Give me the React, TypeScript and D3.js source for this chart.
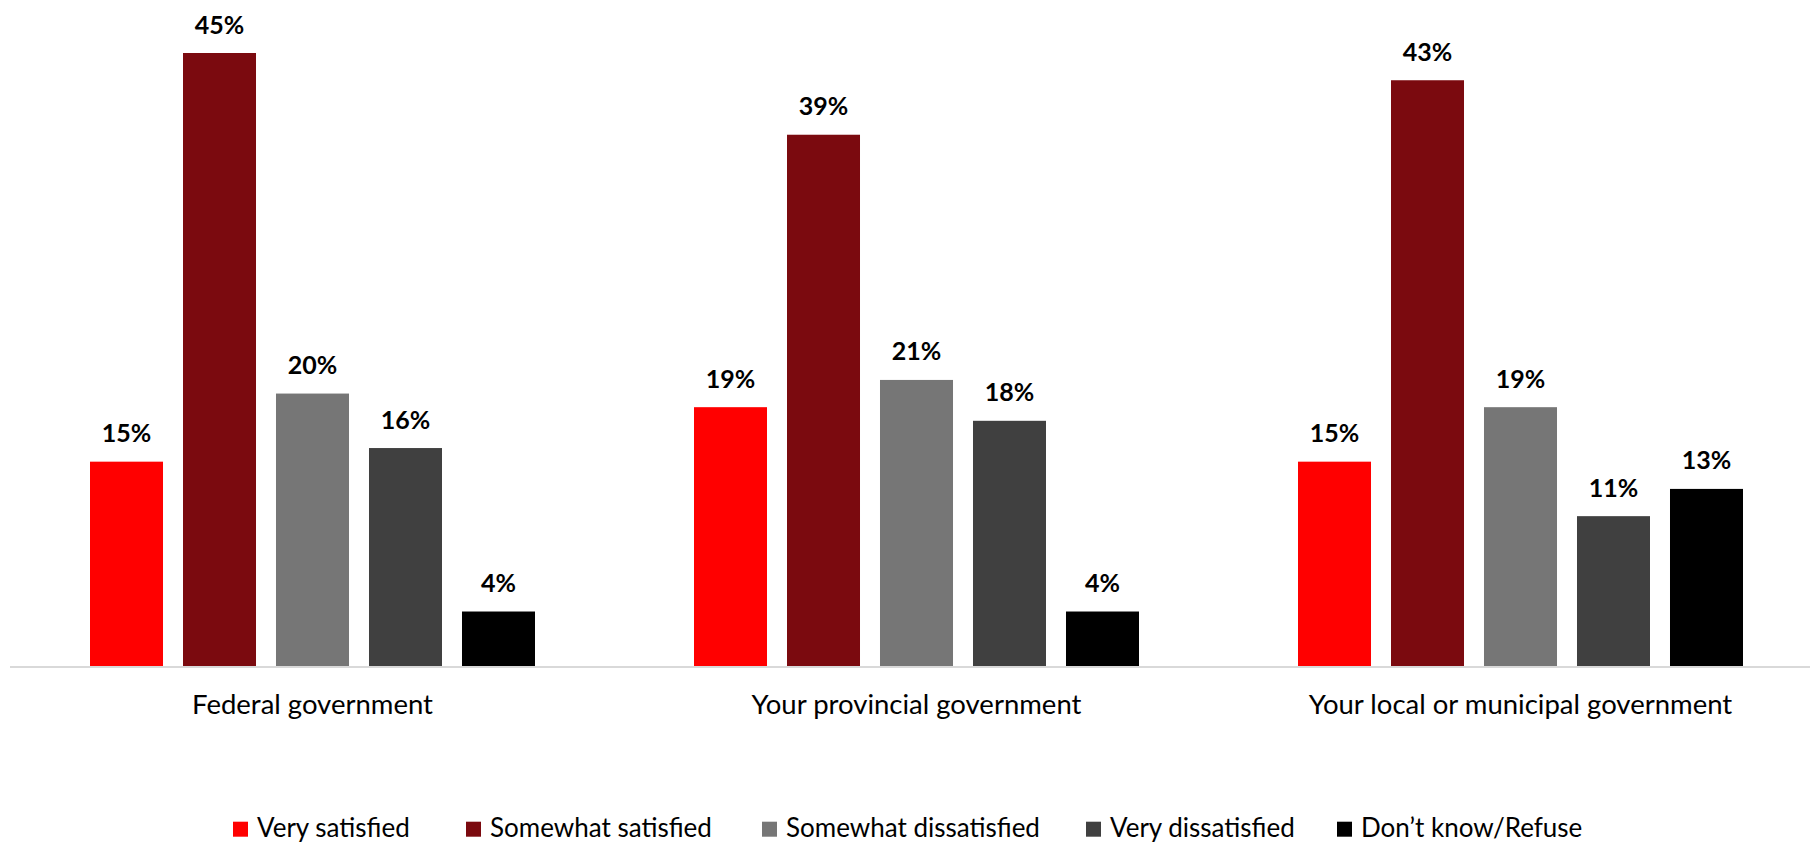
import React from "react";
import * as d3 from "d3";

const categories = ["Federal government", "Your provincial government", "Your local or municipal government"];
const seriesNames = ["Very satisfied", "Somewhat satisfied", "Somewhat dissatisfied", "Very dissatisfied", "Don\u2019t know/Refuse"];
const seriesColors = ["#ff0000", "#7b0a0f", "#767676", "#404040", "#000000"];
const verySatisfied = [15, 19, 15];
const somewhatSatisfied = [45, 39, 43];
const somewhatDissatisfied = [20, 21, 19];
const veryDissatisfied = [16, 18, 11];
const dontKnow = [4, 4, 13];
const seriesValues = [verySatisfied, somewhatSatisfied, somewhatDissatisfied, veryDissatisfied, dontKnow];

const W = 1810;
const H = 842;
const FONT = "Lato, 'Open Sans', sans-serif";

export default function App() {
  const x0 = d3.scaleBand<string>().domain(categories).range([10.5, 1822.5]).padding(0);
  const groupSpan = 445;
  const y = d3.scaleLinear().domain([0, 45]).range([666, 53]);

  const legendX = [233, 466, 762, 1086, 1337];

  return (
    <svg width={W} height={H} style={{ position: "absolute", left: 0, top: 0, background: "#fff" }}>
      <line x1={10} x2={W} y1={667} y2={667} stroke="#d9d9d9" strokeWidth={2} />
      {categories.map((cat, ci) => {
        const center = (x0(cat) as number) + x0.bandwidth() / 2;
        const x1 = d3
          .scaleBand<string>()
          .domain(seriesNames)
          .range([center - groupSpan / 2, center + groupSpan / 2])
          .paddingInner(0.215)
          .paddingOuter(0);
        return (
          <g key={cat}>
            {seriesNames.map((s, si) => {
              const v = seriesValues[si][ci];
              const bx = x1(s) as number;
              return (
                <g key={s}>
                  <rect x={bx} y={y(v)} width={x1.bandwidth()} height={y(0) - y(v)} fill={seriesColors[si]} />
                  <text
                    x={bx + x1.bandwidth() / 2}
                    y={y(v) - 19.5}
                    textAnchor="middle"
                    fontFamily={FONT}
                    fontWeight={700}
                    fontSize={25}
                    fill="#000"
                  >
                    {v}%
                  </text>
                </g>
              );
            })}
            <text x={center} y={714.3} textAnchor="middle" fontFamily={FONT} fontSize={27.5} fill="#000">
              {cat}
            </text>
          </g>
        );
      })}
      {seriesNames.map((s, si) => (
        <g key={s}>
          <rect x={legendX[si]} y={821.7} width={15} height={15} fill={seriesColors[si]} />
          <text x={legendX[si] + 24} y={836.7} fontFamily={FONT} fontSize={26} fill="#000">
            {s}
          </text>
        </g>
      ))}
    </svg>
  );
}
